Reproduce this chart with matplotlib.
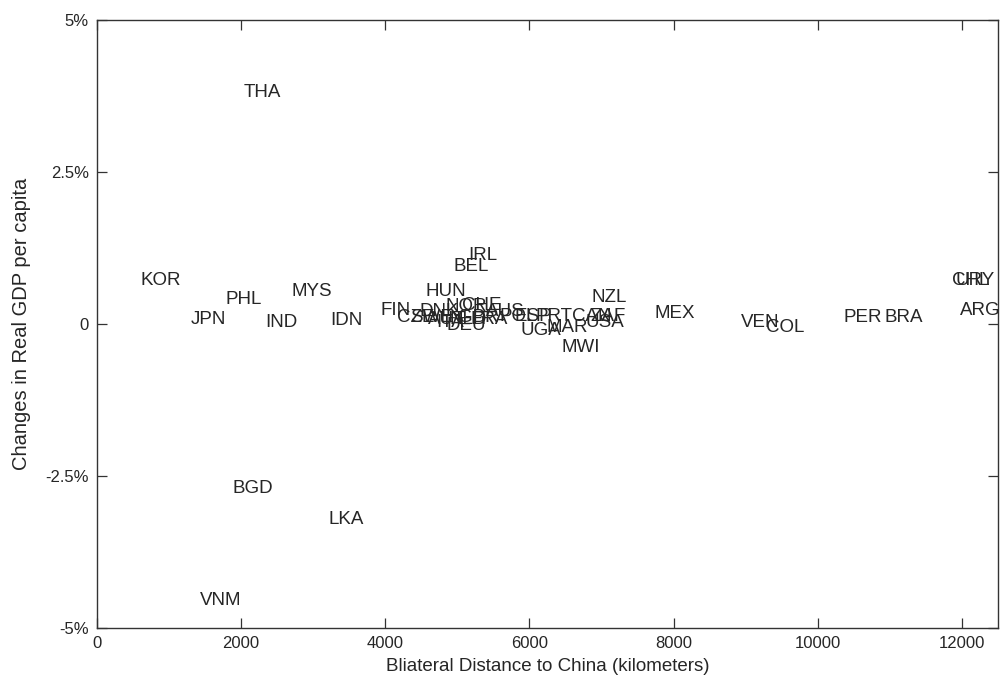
import matplotlib
matplotlib.use("Agg")
import matplotlib.pyplot as plt

plt.rcParams['font.family'] = ['Liberation Sans', 'DejaVu Sans']

countries = ["THA", "KOR", "PHL", "JPN", "IND", "MYS", "IDN", "BGD", "LKA", "VNM",
             "IRL", "BEL", "HUN", "FIN", "DNK", "NOR", "CHE", "AUS", "POL", "ESP",
             "PRT", "CAN", "ZAF", "USA", "NZL", "CZE", "SWE", "AUT", "ITA", "NLD",
             "DEU", "FRA", "GBR", "UGA", "MAR", "MWI", "MEX", "VEN", "COL", "PER",
             "BRA", "CHL", "URY", "ARG"]
distance_km = [2039, 597, 1776, 1304, 2331, 2692, 3233, 1873, 3205, 1429,
               5147, 4939, 4551, 3940, 4481, 4828, 5064, 5397, 5591, 5799,
               6077, 6590, 6840, 6784, 6854, 4162, 4342, 4592, 4703, 4897,
               4842, 5175, 5008, 5869, 6243, 6451, 7741, 8935, 9281, 10350,
               10932, 11862, 11917, 11973]
gdp_change_pct = [3.80, 0.72, 0.41, 0.07, 0.03, 0.53, 0.05, -2.71, -3.21, -4.54,
                  1.12, 0.94, 0.54, 0.23, 0.21, 0.28, 0.30, 0.21, 0.13, 0.13,
                  0.13, 0.12, 0.12, 0.03, 0.43, 0.10, 0.10, 0.07, 0.03, 0.08,
                  -0.02, 0.08, 0.10, -0.10, -0.05, -0.39, 0.18, 0.02, -0.05, 0.10,
                  0.10, 0.71, 0.71, 0.23]

x_ticks = [0, 2000, 4000, 6000, 8000, 10000, 12000]
y_ticks = [-5, -2.5, 0, 2.5, 5]
y_tick_labels = ["-5%", "-2.5%", "0", "2.5%", "5%"]

fig = plt.figure(figsize=(10.01, 6.80), dpi=100)
ax = fig.add_axes([97/1001, 1-628/680, (998-97)/1001, (628-20)/680])

txt_color = '#262626'
for c, x, y in zip(countries, distance_km, gdp_change_pct):
    ax.text(x, y, c, ha='left', va='center', fontsize=13.5, color=txt_color,
            clip_on=False)

ax.set_xlim(0, 12500)
ax.set_ylim(-5, 5)
ax.set_xticks(x_ticks)
ax.set_xticklabels([str(t) for t in x_ticks])
ax.set_yticks(y_ticks)
ax.set_yticklabels(y_tick_labels)
ax.tick_params(direction='in', length=7, width=0.9, top=True, right=True,
               labelsize=12, labelcolor=txt_color, color='#333333', pad=6)
for s in ax.spines.values():
    s.set_color('#333333')
    s.set_linewidth(1.0)

ax.set_xlabel("Bliateral Distance to China (kilometers)", fontsize=13.5,
              color=txt_color, labelpad=5)
ax.set_ylabel("Changes in Real GDP per capita", fontsize=14.5,
              color=txt_color, labelpad=10)

fig.savefig("out.png", dpi=100)
